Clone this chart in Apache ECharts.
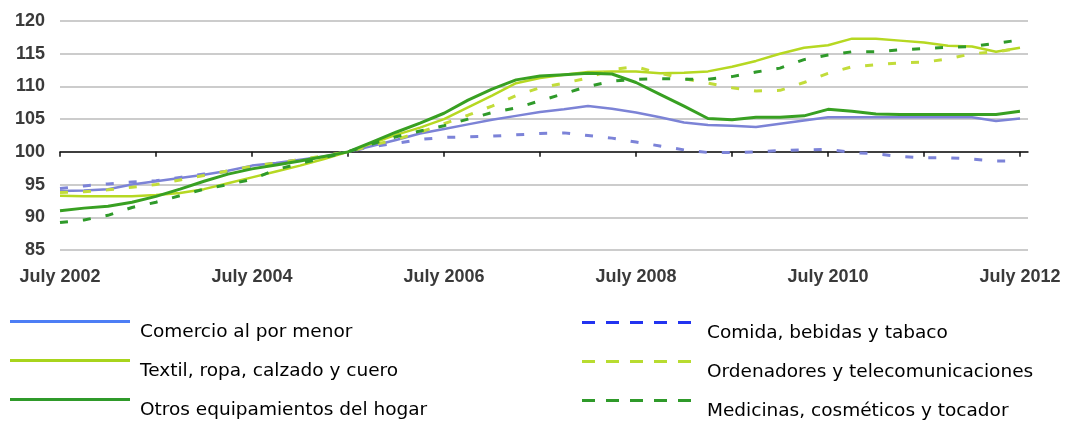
<!doctype html>
<html>
<head>
<meta charset="utf-8">
<title>Ventas minoristas</title>
<style>
	html, body { margin: 0; padding: 0; background: #fff; }
	#main { width: 1067px; height: 421px; }
</style>
<script src="https://cdn.jsdelivr.net/npm/echarts@6/dist/echarts.min.js"></script>
</head>
<body>
<div id="main"></div>
<script>
	// meses desde julio 2002 (cada 3 meses)
	var months = [0, 3, 6, 9, 12, 15, 18, 21, 24, 27, 30, 33, 36, 39, 42, 45, 48, 51, 54, 57, 60,
		63, 66, 69, 72, 75, 78, 81, 84, 87, 90, 93, 96, 99, 102, 105, 108, 111, 114, 117, 120];
	var yTicks = [85, 90, 95, 100, 105, 110, 115, 120];
	var xLabelMonths = [0, 24, 48, 72, 96, 120];
	var xTickMonths = [0, 12, 24, 36, 48, 60, 72, 84, 96, 108, 120];

	var comercio = [94.0, 94.1, 94.3, 95.0, 95.5, 96.0, 96.5, 97.1, 97.9, 98.3, 98.8, 99.3, 100.0,
		100.9, 101.8, 102.8, 103.5, 104.2, 104.9, 105.5, 106.1, 106.5, 107.0, 106.6, 106.0, 105.3, 104.5,
		104.1, 104.0, 103.8, 104.3, 104.8, 105.3, 105.3, 105.3, 105.3, 105.3, 105.3, 105.3, 104.7, 105.1];
	var comida = [94.4, 94.8, 95.1, 95.4, 95.6, 96.1, 96.6, 97.0, 97.6, 98.3, 98.8, 99.3, 100.0,
		100.8, 101.3, 101.9, 102.2, 102.3, 102.4, 102.6, 102.8, 102.9, 102.5, 102.1, 101.5, 100.9, 100.3,
		99.9, 99.9, 100.0, 100.2, 100.3, 100.4, 99.9, 99.7, 99.3, 99.1, 99.1, 98.9, 98.6, 98.6];
	var textil = [93.3, 93.2, 93.2, 93.2, 93.4, 93.7, 94.3, 95.2, 96.1, 97.0, 97.9, 98.9, 100.0,
		101.3, 102.6, 103.7, 105.0, 106.8, 108.6, 110.5, 111.3, 111.8, 112.2, 112.3, 112.3, 112.0, 112.1,
		112.3, 113.0, 113.9, 115.0, 115.9, 116.3, 117.3, 117.3, 117.0, 116.7, 116.2, 116.1, 115.3, 115.9];
	var ordenadores = [93.8, 93.9, 94.2, 94.6, 95.0, 95.7, 96.4, 97.1, 97.8, 98.3, 98.8, 99.4, 100.0,
		101.0, 101.9, 103.0, 104.3, 105.6, 107.0, 108.6, 109.8, 110.5, 111.3, 112.6, 113.0, 112.0, 111.2,
		110.5, 109.8, 109.3, 109.4, 110.6, 112.0, 113.0, 113.3, 113.6, 113.7, 114.2, 115.0, 115.3, 115.8];
	var otros = [91.0, 91.4, 91.7, 92.3, 93.2, 94.3, 95.5, 96.6, 97.4, 98.0, 98.6, 99.3, 100.0,
		101.5, 103.0, 104.4, 105.9, 107.9, 109.6, 111.0, 111.6, 111.8, 112.0, 111.9, 110.6, 108.8, 107.0,
		105.1, 104.9, 105.3, 105.3, 105.5, 106.5, 106.2, 105.8, 105.7, 105.7, 105.7, 105.7, 105.7, 106.2];
	var medicinas = [89.2, 89.6, 90.3, 91.5, 92.3, 93.3, 94.3, 95.0, 95.8, 97.3, 98.2, 99.1, 100.0,
		101.2, 102.3, 103.2, 104.0, 105.0, 106.0, 106.7, 107.8, 108.9, 110.0, 110.8, 111.1, 111.2, 111.1,
		111.1, 111.5, 112.2, 112.8, 114.1, 114.8, 115.3, 115.3, 115.6, 115.8, 116.0, 116.1, 116.6, 117.1];

	function pairs(vals) {
		var out = [];
		for (var i = 0; i < vals.length; i++) out.push([months[i], vals[i]]);
		return out;
	}

	// iconos de leyenda: la raya arriba, el texto queda debajo (parte baja invisible)
	var solidIcon = 'path://M0,0h120v3h-120zM0,24h125';
	var dashIcon = 'path://M0,0h13v3h-13zM24,0h13v3h-13zM48,0h13v3h-13zM72,0h13v3h-13zM96,0h13v3h-13zM0,24h120';

	var gridTop = 21, gridBottom = 171, gridH = 421 - gridTop - gridBottom;
	var legendText = { fontFamily: 'DejaVu Sans', fontSize: 18.5, color: '#000' };
	var axisFont = { fontFamily: 'Liberation Sans', fontSize: 18, fontWeight: 'bold', color: '#3a3a3a' };

	var myChart = echarts.init(document.getElementById('main'));
	var option = {
		animation: false,
		grid: { left: 60, right: 39, top: gridTop, bottom: gridBottom },
		xAxis: [
			{
				type: 'value', min: 0, max: 121,
				axisLine: { show: false }, axisTick: { show: false }, splitLine: { show: false },
				axisLabel: Object.assign({
					customValues: xLabelMonths, margin: 18,
					formatter: function (v) { return 'July ' + (2002 + v / 12); }
				}, axisFont)
			},
			{
				// eje negro sobre la línea de 100
				type: 'value', min: 0, max: 121, position: 'bottom',
				offset: -gridH * 15 / 35,
				axisLine: { show: true, lineStyle: { color: '#111', width: 1.5 } },
				axisTick: { show: true, customValues: xTickMonths, length: 5, lineStyle: { color: '#111', width: 1.5 } },
				axisLabel: { show: false }, splitLine: { show: false }
			}
		],
		yAxis: {
			type: 'value', min: yTicks[0], max: yTicks[yTicks.length - 1], interval: 5,
			axisLine: { show: false }, axisTick: { show: false },
			axisLabel: Object.assign({ margin: 15 }, axisFont),
			splitLine: { lineStyle: { color: '#cccccc', width: 2 } }
		},
		legend: [
			{
				orient: 'vertical', left: 10, top: 320, height: 120, padding: 0, itemGap: 15,
				itemWidth: 125, itemHeight: 24, textStyle: legendText,
				data: [
					{ name: 'Comercio al por menor', icon: solidIcon, itemStyle: { color: '#4d7ef5', borderWidth: 0 } },
					{ name: 'Textil, ropa, calzado y cuero', icon: solidIcon, itemStyle: { color: '#a8d41c', borderWidth: 0 } },
					{ name: 'Otros equipamientos del hogar', icon: solidIcon, itemStyle: { color: '#2f9a2a', borderWidth: 0 } }
				]
			},
			{
				orient: 'vertical', left: 582, top: 321, height: 120, padding: 0, itemGap: 15,
				itemWidth: 120, itemHeight: 24, textStyle: legendText,
				data: [
					{ name: 'Comida, bebidas y tabaco', icon: dashIcon, itemStyle: { color: '#2233f0', borderWidth: 0 } },
					{ name: 'Ordenadores y telecomunicaciones', icon: dashIcon, itemStyle: { color: '#b8dc30', borderWidth: 0 } },
					{ name: 'Medicinas, cosméticos y tocador', icon: dashIcon, itemStyle: { color: '#2f9a2a', borderWidth: 0 } }
				]
			}
		],
		series: [
			{ name: 'Comercio al por menor', type: 'line', symbol: 'none', data: pairs(comercio),
				color: '#7c83d6', lineStyle: { width: 2.5 } },
			{ name: 'Comida, bebidas y tabaco', type: 'line', symbol: 'none', data: pairs(comida),
				color: '#7c83d8', lineStyle: { width: 3, type: [8, 15] } },
			{ name: 'Textil, ropa, calzado y cuero', type: 'line', symbol: 'none', data: pairs(textil),
				color: '#b6d822', lineStyle: { width: 2.5 } },
			{ name: 'Ordenadores y telecomunicaciones', type: 'line', symbol: 'none', data: pairs(ordenadores),
				color: '#c2dc3a', lineStyle: { width: 3, type: [8, 15] } },
			{ name: 'Otros equipamientos del hogar', type: 'line', symbol: 'none', data: pairs(otros),
				color: '#38a022', lineStyle: { width: 3 } },
			{ name: 'Medicinas, cosméticos y tocador', type: 'line', symbol: 'none', data: pairs(medicinas),
				color: '#2f9a2a', lineStyle: { width: 3, type: [8, 15] } }
		]
	};
	myChart.setOption(option);
</script>
</body>
</html>
